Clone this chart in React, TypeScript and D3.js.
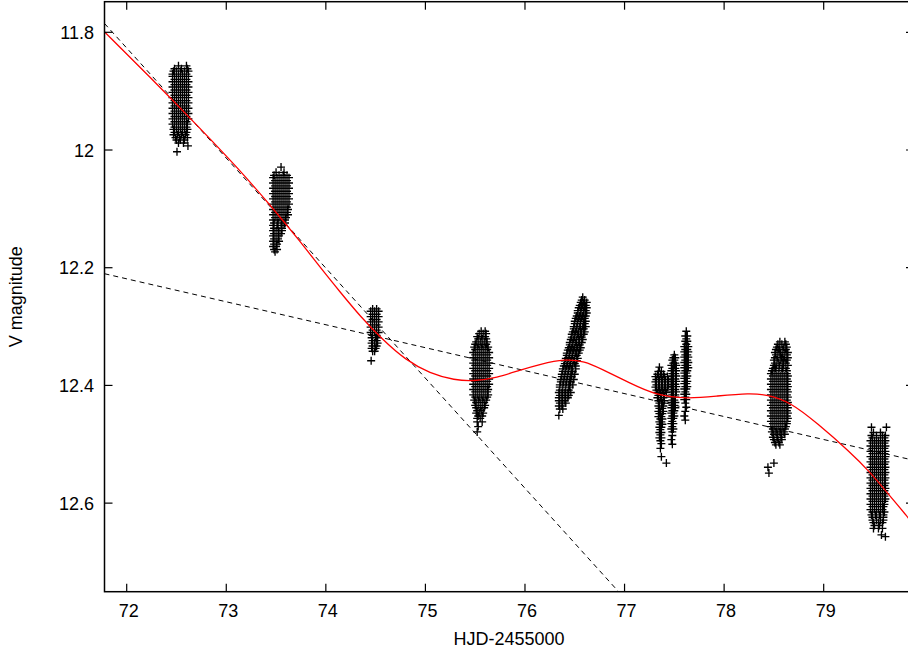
import React from 'react';
import * as d3 from 'd3';

const xTicks = [72, 73, 74, 75, 76, 77, 78, 79];
const yTicks = [11.8, 12, 12.2, 12.4, 12.6];
const yTickLabels = ['11.8', '12', '12.2', '12.4', '12.6'];
const xDomain = [71.777, 79.907];
const yDomain = [11.748, 12.7505];
const xTitle = 'HJD-2455000';
const yTitle = 'V magnitude';

// each row: [V magnitude, ...HJD-2455000 of observations read at that magnitude]
const night72: number[][] = [
  [11.857, 72.52, 72.60], [11.862, 72.48, 72.55, 72.61],
  [11.866, 72.47, 72.50, 72.54, 72.58, 72.62], [11.871, 72.46, 72.48, 72.52, 72.56, 72.60],
  [11.875, 72.46, 72.50, 72.54, 72.58, 72.62], [11.880, 72.48, 72.52, 72.56, 72.60],
  [11.884, 72.46, 72.50, 72.54, 72.58, 72.62], [11.889, 72.48, 72.52, 72.56, 72.60],
  [11.893, 72.46, 72.50, 72.54, 72.58, 72.62], [11.898, 72.48, 72.52, 72.56, 72.60],
  [11.902, 72.46, 72.50, 72.54, 72.58, 72.62], [11.907, 72.48, 72.52, 72.56, 72.60],
  [11.911, 72.46, 72.50, 72.54, 72.58, 72.62], [11.916, 72.48, 72.52, 72.56, 72.60],
  [11.920, 72.46, 72.50, 72.54, 72.58, 72.62], [11.925, 72.48, 72.52, 72.56, 72.60],
  [11.929, 72.46, 72.50, 72.54, 72.58, 72.62], [11.934, 72.48, 72.52, 72.56, 72.60],
  [11.938, 72.46, 72.50, 72.54, 72.58, 72.62], [11.943, 72.48, 72.52, 72.56, 72.60],
  [11.947, 72.46, 72.50, 72.54, 72.58, 72.62], [11.952, 72.48, 72.52, 72.56, 72.60],
  [11.956, 72.46, 72.50, 72.54, 72.58, 72.61], [11.961, 72.48, 72.52, 72.56, 72.60],
  [11.965, 72.47, 72.50, 72.54, 72.58, 72.61], [11.970, 72.48, 72.52, 72.56, 72.60],
  [11.974, 72.47, 72.51, 72.55, 72.59], [11.979, 72.49, 72.53, 72.57, 72.61],
  [11.983, 72.50, 72.54, 72.58], [11.988, 72.52, 72.57],
  [11.993, 72.615], [12.003, 72.505],
];
const night73: number[][] = [
  [12.029, 73.55], [12.038, 73.50, 73.58], [12.043, 73.48, 73.53, 73.57, 73.61],
  [12.047, 73.47, 73.51, 73.55, 73.59, 73.63], [12.052, 73.49, 73.53, 73.57, 73.61],
  [12.056, 73.47, 73.51, 73.55, 73.59, 73.63], [12.061, 73.49, 73.53, 73.57, 73.61],
  [12.065, 73.47, 73.51, 73.55, 73.59, 73.63], [12.070, 73.49, 73.53, 73.57, 73.61],
  [12.074, 73.47, 73.51, 73.55, 73.59, 73.63], [12.079, 73.49, 73.53, 73.57, 73.61],
  [12.083, 73.47, 73.51, 73.55, 73.59, 73.63], [12.088, 73.49, 73.53, 73.57, 73.61],
  [12.092, 73.47, 73.51, 73.55, 73.59, 73.63], [12.097, 73.49, 73.53, 73.57, 73.61],
  [12.101, 73.47, 73.51, 73.55, 73.59, 73.62], [12.106, 73.49, 73.53, 73.57, 73.61],
  [12.110, 73.47, 73.51, 73.55, 73.59, 73.62], [12.115, 73.49, 73.53, 73.57, 73.60],
  [12.119, 73.47, 73.51, 73.55, 73.59], [12.124, 73.48, 73.52, 73.56, 73.59],
  [12.128, 73.47, 73.51, 73.55, 73.58], [12.133, 73.48, 73.52, 73.56],
  [12.137, 73.47, 73.50, 73.53, 73.56], [12.142, 73.48, 73.52, 73.55],
  [12.146, 73.47, 73.50, 73.53], [12.151, 73.48, 73.52], [12.155, 73.47, 73.50, 73.53],
  [12.160, 73.48, 73.51], [12.164, 73.47, 73.50], [12.169, 73.48, 73.51], [12.173, 73.49],
];
const night74: number[][] = [
  [12.270, 74.47, 74.51], [12.274, 74.45, 74.49, 74.53], [12.279, 74.47, 74.51],
  [12.283, 74.45, 74.49, 74.53], [12.288, 74.47, 74.51], [12.292, 74.45, 74.49, 74.53],
  [12.297, 74.47, 74.51], [12.301, 74.45, 74.49, 74.53], [12.306, 74.47, 74.51],
  [12.310, 74.45, 74.49, 74.53], [12.315, 74.47, 74.51], [12.319, 74.46, 74.50, 74.52],
  [12.324, 74.47, 74.51], [12.328, 74.46, 74.49, 74.52], [12.333, 74.47, 74.51],
  [12.337, 74.46, 74.50], [12.342, 74.47, 74.49], [12.358, 74.455],
];
const night75: number[][] = [
  [12.308, 75.56, 75.60], [12.312, 75.54, 75.58, 75.61], [12.317, 75.52, 75.56, 75.60],
  [12.321, 75.53, 75.57, 75.61], [12.326, 75.51, 75.55, 75.59, 75.62],
  [12.330, 75.50, 75.53, 75.57, 75.61], [12.335, 75.49, 75.52, 75.56, 75.60, 75.63],
  [12.339, 75.50, 75.54, 75.58, 75.62], [12.344, 75.48, 75.52, 75.56, 75.60, 75.64],
  [12.348, 75.50, 75.54, 75.58, 75.62], [12.353, 75.48, 75.52, 75.56, 75.60, 75.64],
  [12.357, 75.50, 75.54, 75.58, 75.62], [12.362, 75.48, 75.52, 75.56, 75.60, 75.64],
  [12.366, 75.50, 75.54, 75.58, 75.62], [12.371, 75.48, 75.52, 75.56, 75.60, 75.64],
  [12.375, 75.50, 75.54, 75.58, 75.62], [12.380, 75.48, 75.52, 75.56, 75.60, 75.64],
  [12.384, 75.50, 75.54, 75.58, 75.62], [12.389, 75.48, 75.52, 75.56, 75.60, 75.64],
  [12.393, 75.50, 75.54, 75.58, 75.62], [12.398, 75.48, 75.52, 75.56, 75.60, 75.64],
  [12.402, 75.50, 75.54, 75.58, 75.62], [12.407, 75.48, 75.52, 75.56, 75.60, 75.63],
  [12.411, 75.50, 75.54, 75.58, 75.62], [12.416, 75.48, 75.52, 75.56, 75.60, 75.63],
  [12.420, 75.50, 75.54, 75.58, 75.62], [12.425, 75.49, 75.53, 75.57, 75.61],
  [12.429, 75.51, 75.55, 75.59], [12.434, 75.50, 75.53, 75.57, 75.60],
  [12.438, 75.51, 75.55, 75.59], [12.443, 75.52, 75.56], [12.447, 75.51, 75.54, 75.58],
  [12.452, 75.53, 75.57], [12.456, 75.52, 75.55], [12.462, 75.52, 75.57],
  [12.470, 75.53], [12.479, 75.52],
];
const night76: number[][] = [
  [12.250, 76.58], [12.255, 76.57, 76.60], [12.259, 76.56, 76.59, 76.62],
  [12.264, 76.55, 76.58, 76.61], [12.268, 76.54, 76.57, 76.60, 76.62],
  [12.273, 76.53, 76.56, 76.59, 76.61], [12.277, 76.53, 76.56, 76.59, 76.62],
  [12.282, 76.52, 76.55, 76.58, 76.61], [12.286, 76.51, 76.54, 76.57, 76.60],
  [12.291, 76.50, 76.53, 76.56, 76.59, 76.61], [12.295, 76.50, 76.53, 76.56, 76.60],
  [12.300, 76.49, 76.52, 76.55, 76.58, 76.61], [12.304, 76.49, 76.52, 76.56, 76.59],
  [12.309, 76.48, 76.51, 76.54, 76.57, 76.60], [12.313, 76.47, 76.50, 76.53, 76.56, 76.59],
  [12.318, 76.47, 76.50, 76.54, 76.57], [12.322, 76.46, 76.49, 76.52, 76.55, 76.58],
  [12.327, 76.45, 76.48, 76.51, 76.54, 76.57], [12.331, 76.45, 76.48, 76.52, 76.55],
  [12.336, 76.44, 76.47, 76.50, 76.53, 76.56], [12.340, 76.43, 76.46, 76.49, 76.52, 76.55],
  [12.345, 76.42, 76.45, 76.48, 76.51, 76.54], [12.349, 76.42, 76.45, 76.48, 76.52],
  [12.354, 76.41, 76.44, 76.47, 76.50, 76.53], [12.358, 76.40, 76.43, 76.46, 76.49, 76.52],
  [12.363, 76.40, 76.43, 76.46, 76.50], [12.367, 76.39, 76.42, 76.45, 76.48, 76.51],
  [12.372, 76.38, 76.41, 76.44, 76.47, 76.51], [12.376, 76.38, 76.41, 76.44, 76.48],
  [12.381, 76.37, 76.40, 76.43, 76.46, 76.50], [12.385, 76.37, 76.40, 76.43, 76.47],
  [12.390, 76.36, 76.39, 76.42, 76.45, 76.49], [12.394, 76.36, 76.39, 76.42, 76.46],
  [12.399, 76.35, 76.38, 76.41, 76.44, 76.48], [12.403, 76.35, 76.38, 76.41, 76.45],
  [12.408, 76.35, 76.38, 76.41, 76.44], [12.412, 76.34, 76.37, 76.40, 76.43, 76.46],
  [12.417, 76.35, 76.38, 76.41, 76.44], [12.421, 76.34, 76.37, 76.40, 76.43],
  [12.426, 76.34, 76.37, 76.40], [12.430, 76.35, 76.38, 76.41],
  [12.435, 76.34, 76.37], [12.440, 76.35, 76.38], [12.451, 76.34],
];
const night77a: number[][] = [
  [12.369, 77.35], [12.376, 77.34, 77.37], [12.381, 77.33, 77.36, 77.39],
  [12.385, 77.31, 77.34, 77.37, 77.40, 77.43], [12.390, 77.32, 77.35, 77.38, 77.41, 77.44],
  [12.394, 77.31, 77.34, 77.37, 77.40, 77.43], [12.399, 77.32, 77.35, 77.38, 77.41, 77.44],
  [12.403, 77.31, 77.34, 77.37, 77.40, 77.43], [12.408, 77.32, 77.35, 77.38, 77.41],
  [12.412, 77.33, 77.36, 77.39, 77.42], [12.417, 77.34, 77.37, 77.40],
  [12.421, 77.33, 77.36, 77.39], [12.426, 77.34, 77.37, 77.40], [12.430, 77.35, 77.38],
  [12.435, 77.34, 77.37, 77.39], [12.439, 77.35, 77.38], [12.444, 77.34, 77.36, 77.39],
  [12.448, 77.35, 77.38], [12.453, 77.34, 77.37], [12.457, 77.36, 77.38],
  [12.462, 77.35, 77.37], [12.466, 77.36, 77.38], [12.471, 77.35, 77.37],
  [12.475, 77.36], [12.480, 77.35, 77.37], [12.484, 77.36], [12.489, 77.35, 77.37],
  [12.494, 77.36], [12.499, 77.37], [12.507, 77.36], [12.521, 77.37], [12.532, 77.42],
];
const night77b: number[][] = [
  [12.348, 77.50], [12.353, 77.49, 77.51], [12.357, 77.48, 77.50], [12.362, 77.49, 77.51],
  [12.366, 77.47, 77.50, 77.52], [12.371, 77.48, 77.51], [12.375, 77.47, 77.49, 77.52],
  [12.380, 77.48, 77.51], [12.384, 77.47, 77.49, 77.52], [12.389, 77.48, 77.51],
  [12.393, 77.47, 77.49, 77.52], [12.398, 77.48, 77.51], [12.402, 77.47, 77.49, 77.52],
  [12.407, 77.48, 77.51], [12.411, 77.47, 77.49, 77.52], [12.416, 77.48, 77.51],
  [12.420, 77.47, 77.49, 77.51], [12.425, 77.48, 77.50], [12.429, 77.47, 77.49, 77.51],
  [12.434, 77.48, 77.50], [12.438, 77.47, 77.49, 77.51], [12.443, 77.48, 77.50],
  [12.447, 77.47, 77.49], [12.452, 77.48, 77.50], [12.456, 77.47, 77.49],
  [12.461, 77.48], [12.465, 77.47, 77.49], [12.470, 77.48], [12.474, 77.47, 77.49],
  [12.479, 77.48], [12.485, 77.48], [12.492, 77.47], [12.500, 77.48],
];
const night77c: number[][] = [
  [12.308, 77.62], [12.316, 77.61, 77.63], [12.321, 77.62], [12.325, 77.61, 77.63],
  [12.330, 77.62], [12.334, 77.60, 77.62, 77.64], [12.339, 77.61, 77.63],
  [12.343, 77.60, 77.62, 77.64], [12.348, 77.61, 77.63], [12.352, 77.60, 77.62, 77.64],
  [12.357, 77.61, 77.63], [12.361, 77.60, 77.62, 77.64], [12.366, 77.61, 77.63],
  [12.370, 77.60, 77.62, 77.64], [12.375, 77.61, 77.63], [12.379, 77.60, 77.62],
  [12.384, 77.61, 77.63], [12.388, 77.60, 77.62], [12.393, 77.61, 77.63],
  [12.397, 77.60, 77.62], [12.402, 77.61, 77.63], [12.406, 77.60, 77.62],
  [12.411, 77.61], [12.415, 77.60, 77.62], [12.420, 77.61], [12.424, 77.60, 77.62],
  [12.430, 77.61], [12.437, 77.62], [12.444, 77.61], [12.452, 77.60], [12.459, 77.61],
];
const night78: number[][] = [
  [12.326, 78.56, 78.61], [12.330, 78.54, 78.58, 78.62], [12.335, 78.53, 78.56, 78.60, 78.63],
  [12.339, 78.52, 78.55, 78.59, 78.62], [12.344, 78.51, 78.54, 78.57, 78.61, 78.64],
  [12.348, 78.52, 78.56, 78.59, 78.63], [12.353, 78.51, 78.54, 78.58, 78.61, 78.64],
  [12.357, 78.50, 78.53, 78.57, 78.60, 78.63], [12.362, 78.51, 78.55, 78.59, 78.62],
  [12.366, 78.50, 78.53, 78.56, 78.60, 78.64], [12.371, 78.49, 78.52, 78.55, 78.58, 78.62],
  [12.375, 78.48, 78.51, 78.55, 78.59, 78.63],
  [12.380, 78.47, 78.51, 78.55, 78.59, 78.63], [12.384, 78.49, 78.53, 78.57, 78.61, 78.64],
  [12.389, 78.47, 78.51, 78.55, 78.59, 78.63], [12.393, 78.49, 78.53, 78.57, 78.61, 78.64],
  [12.398, 78.47, 78.51, 78.55, 78.59, 78.63], [12.402, 78.49, 78.53, 78.57, 78.61, 78.64],
  [12.407, 78.47, 78.51, 78.55, 78.59, 78.63], [12.411, 78.49, 78.53, 78.57, 78.61, 78.64],
  [12.416, 78.47, 78.51, 78.55, 78.59, 78.63], [12.420, 78.49, 78.53, 78.57, 78.61, 78.64],
  [12.425, 78.47, 78.51, 78.55, 78.59, 78.63], [12.429, 78.49, 78.53, 78.57, 78.61, 78.64],
  [12.434, 78.47, 78.51, 78.55, 78.59, 78.63], [12.438, 78.49, 78.53, 78.57, 78.61, 78.64],
  [12.443, 78.47, 78.51, 78.55, 78.59, 78.63], [12.447, 78.49, 78.53, 78.57, 78.61, 78.64],
  [12.452, 78.47, 78.51, 78.55, 78.59, 78.63], [12.456, 78.49, 78.53, 78.57, 78.61, 78.64],
  [12.461, 78.47, 78.51, 78.55, 78.59, 78.63], [12.465, 78.49, 78.53, 78.57, 78.61, 78.63],
  [12.470, 78.47, 78.51, 78.55, 78.59, 78.62], [12.474, 78.49, 78.53, 78.57, 78.61],
  [12.479, 78.48, 78.52, 78.56, 78.60], [12.483, 78.50, 78.54, 78.58, 78.61],
  [12.488, 78.49, 78.53, 78.57], [12.492, 78.50, 78.54, 78.58], [12.497, 78.51, 78.55],
  [12.501, 78.52, 78.56], [12.532, 78.50], [12.539, 78.44], [12.549, 78.45],
];
const night79: number[][] = [
  [12.471, 79.48, 79.63], [12.480, 79.50, 79.57], [12.485, 79.48, 79.53, 79.59, 79.62],
  [12.489, 79.49, 79.53, 79.57, 79.61], [12.494, 79.47, 79.51, 79.55, 79.59, 79.62],
  [12.498, 79.49, 79.53, 79.57, 79.61], [12.503, 79.47, 79.51, 79.55, 79.59, 79.62],
  [12.507, 79.49, 79.53, 79.57, 79.61], [12.512, 79.47, 79.51, 79.55, 79.59, 79.62],
  [12.516, 79.49, 79.53, 79.57, 79.61], [12.521, 79.47, 79.51, 79.55, 79.59, 79.62],
  [12.525, 79.49, 79.53, 79.57, 79.61], [12.530, 79.47, 79.51, 79.55, 79.59, 79.62],
  [12.534, 79.49, 79.53, 79.57, 79.61], [12.539, 79.47, 79.51, 79.55, 79.59, 79.62],
  [12.543, 79.49, 79.53, 79.57, 79.61], [12.548, 79.47, 79.51, 79.55, 79.59, 79.62],
  [12.552, 79.49, 79.53, 79.57, 79.61], [12.557, 79.47, 79.51, 79.55, 79.59, 79.62],
  [12.561, 79.49, 79.53, 79.57, 79.61], [12.566, 79.47, 79.51, 79.55, 79.59, 79.62],
  [12.570, 79.49, 79.53, 79.57, 79.61], [12.575, 79.47, 79.51, 79.55, 79.59, 79.62],
  [12.579, 79.49, 79.53, 79.57, 79.61], [12.584, 79.47, 79.51, 79.55, 79.59, 79.62],
  [12.588, 79.49, 79.53, 79.57, 79.61], [12.593, 79.47, 79.51, 79.55, 79.59, 79.62],
  [12.597, 79.49, 79.53, 79.57, 79.61], [12.602, 79.47, 79.51, 79.55, 79.59, 79.61],
  [12.606, 79.49, 79.53, 79.57, 79.60], [12.611, 79.47, 79.51, 79.55, 79.59],
  [12.615, 79.49, 79.53, 79.57, 79.61], [12.620, 79.48, 79.52, 79.56, 79.60],
  [12.624, 79.49, 79.53, 79.57, 79.60], [12.629, 79.49, 79.53, 79.57, 79.60],
  [12.633, 79.50, 79.55, 79.59], [12.638, 79.51, 79.56], [12.643, 79.50, 79.55, 79.59],
  [12.654, 79.58], [12.657, 79.62],
];
const nights = [night72, night73, night74, night75, night76, night77a, night77b, night77c, night78, night79];

// fitted lines: [day, mag]
const steepFit: [number, number][] = [[71.777, 11.785], [76.94, 12.7505]];
const slowFit: [number, number][] = [[71.777, 12.2102], [79.907, 12.5273]];
const smoothFit: [number, number][] = [
  [71.775, 11.799], [72.234, 11.876], [72.736, 11.963], [73.118, 12.031],
  [73.439, 12.093], [73.740, 12.155], [73.941, 12.199], [74.142, 12.241],
  [74.342, 12.282], [74.574, 12.323], [74.795, 12.356], [75.046, 12.380],
  [75.297, 12.391], [75.478, 12.393], [75.719, 12.387], [75.950, 12.374],
  [76.151, 12.364], [76.402, 12.355], [76.603, 12.359], [76.754, 12.371],
  [77.055, 12.396], [77.306, 12.416], [77.628, 12.423], [77.929, 12.418],
  [78.260, 12.413], [78.431, 12.416], [78.662, 12.428], [78.933, 12.464],
  [79.264, 12.513], [79.465, 12.547], [79.666, 12.588], [79.847, 12.624],
  [79.907, 12.639],
];

const FONT = "'Liberation Sans', Arial, Helvetica, sans-serif";

export default function App() {
  const W = 908, H = 652;
  const L = 104.5, R = 914, T = 1.7, B = 591.7;
  const x = d3.scaleLinear().domain(xDomain).range([L, R]);
  const y = d3.scaleLinear().domain(yDomain).range([T, B]);

  const points: [number, number][] = [];
  nights.forEach(rows => rows.forEach(([m, ...days]) => days.forEach(d => points.push([d, m]))));
  const plus = points
    .map(([d, m]) => {
      const px = x(d), py = y(m);
      return `M${(px - 4).toFixed(2)},${py.toFixed(2)}h8M${px.toFixed(2)},${(py - 4).toFixed(2)}v8`;
    })
    .join('');

  const line = d3.line<[number, number]>().x(d => x(d[0])).y(d => y(d[1]));
  const curve = d3.line<[number, number]>().x(d => x(d[0])).y(d => y(d[1])).curve(d3.curveBasis);

  return (
    <svg width={W} height={H} style={{ position: 'absolute', left: 0, top: 0, background: '#fff' }} fontFamily={FONT}>
      <defs>
        <clipPath id="plot">
          <rect x={L} y={T} width={R - L} height={B - T} />
        </clipPath>
      </defs>
      <rect x={0} y={0} width={W} height={H} fill="#fff" />
      <g clipPath="url(#plot)">
        <path d={plus} stroke="#000" strokeWidth={1.35} fill="none" />
        <path d={line(steepFit) || ''} stroke="#000" strokeWidth={1} strokeDasharray="5,4" fill="none" />
        <path d={line(slowFit) || ''} stroke="#000" strokeWidth={1} strokeDasharray="5,4" fill="none" />
        <path d={curve(smoothFit) || ''} stroke="#ff0000" strokeWidth={1.3} fill="none" />
      </g>
      <g stroke="#000" strokeWidth={1.2}>
        {xTicks.map(t => (
          <g key={'xt' + t}>
            <line x1={x(t)} x2={x(t)} y1={B} y2={B - 8} />
            <line x1={x(t)} x2={x(t)} y1={T} y2={T + 8} />
          </g>
        ))}
        {yTicks.map(t => (
          <g key={'yt' + t}>
            <line x1={L} x2={L + 8} y1={y(t)} y2={y(t)} />
            <line x1={R} x2={R - 8} y1={y(t)} y2={y(t)} />
          </g>
        ))}
      </g>
      <rect x={L} y={T} width={R - L} height={B - T} fill="none" stroke="#000" strokeWidth={1.5} />
      <g fontSize={18} fill="#000">
        {xTicks.map(t => (
          <text key={'xl' + t} x={x(t) + 2} y={617} textAnchor="middle">{t}</text>
        ))}
        {yTicks.map((t, i) => (
          <text key={'yl' + t} x={94} y={y(t) + 6.5} textAnchor="end">{yTickLabels[i]}</text>
        ))}
        <text x={509} y={645} textAnchor="middle">{xTitle}</text>
        <text transform={`translate(21.5,${(T + B) / 2}) rotate(-90)`} textAnchor="middle">{yTitle}</text>
      </g>
    </svg>
  );
}
